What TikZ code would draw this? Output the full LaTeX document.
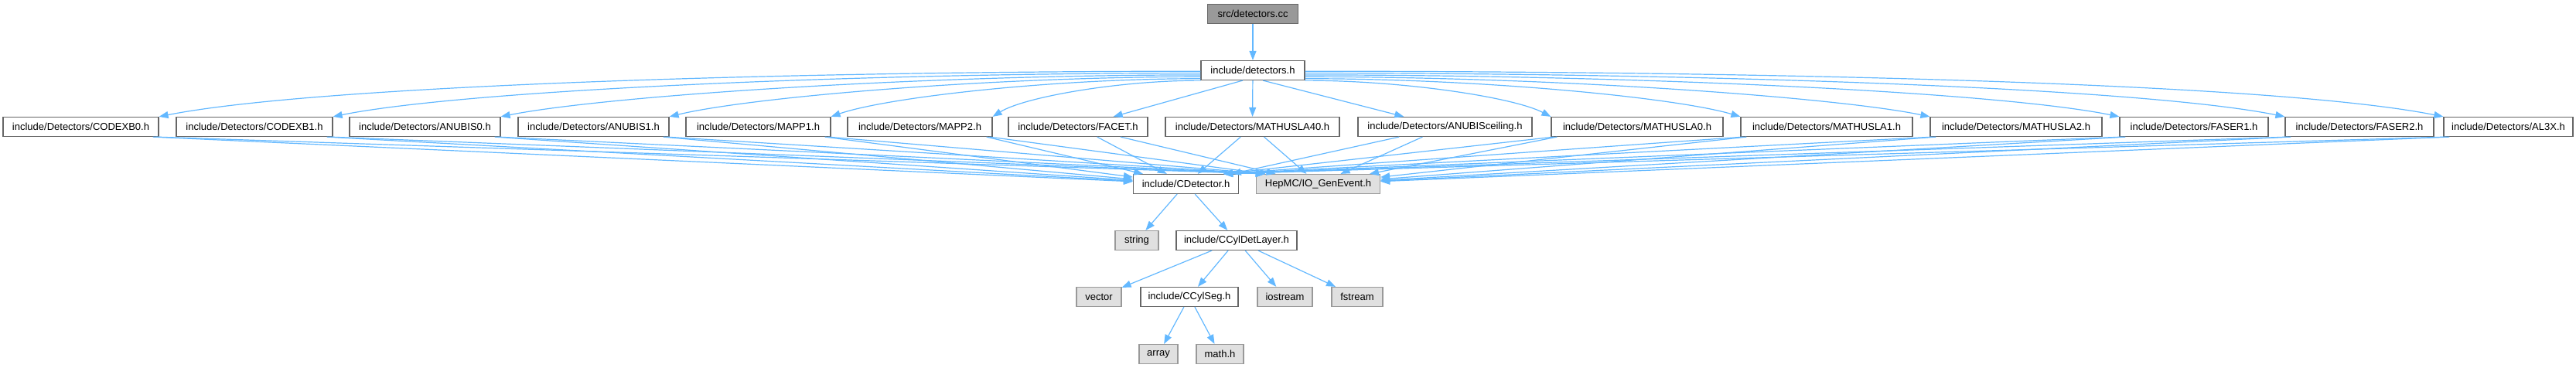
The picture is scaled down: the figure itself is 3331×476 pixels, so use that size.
\documentclass[tikz,border=0pt]{standalone}
\usepackage{fontspec}
\setmainfont{Liberation Sans}
\usetikzlibrary{arrows.meta}

\definecolor{edgeblue}{HTML}{63B8FF}
\definecolor{boxline}{HTML}{666666}
\definecolor{extline}{HTML}{999999}
\definecolor{extfill}{HTML}{E0E0E0}
\definecolor{srcfill}{HTML}{999999}

\begin{document}
\begin{tikzpicture}[x=1pt,y=-1pt,
  hdr/.style={draw=boxline,fill=white,line width=1.2pt,minimum height=25pt,
    inner sep=0pt,font=\fontsize{13}{15}\selectfont},
  ext/.style={hdr,draw=extline,fill=extfill},
  srcbox/.style={hdr,fill=srcfill},
  inc/.style={draw=edgeblue,line width=1.2pt,-{Triangle[length=12pt,width=9pt]}}
]
\useasboundingbox (0,0) rectangle (3331,476);

\node[srcbox,minimum width=117pt] (src) at (1620,18) {src/detectors.cc};
\node[hdr,minimum width=134pt] (det) at (1620,91) {include/detectors.h};

% detector headers
\node[hdr,minimum width=201pt] (codexb0) at (104.5,164) {include/Detectors/CODEXB0.h};
\node[hdr,minimum width=202pt] (codexb1) at (329,164) {include/Detectors/CODEXB1.h};
\node[hdr,minimum width=195pt] (anubis0) at (549.5,164) {include/Detectors/ANUBIS0.h};
\node[hdr,minimum width=195pt] (anubis1) at (767.5,164) {include/Detectors/ANUBIS1.h};
\node[hdr,minimum width=187pt] (mapp1) at (980.5,164) {include/Detectors/MAPP1.h};
\node[hdr,minimum width=187pt] (mapp2) at (1189.5,164) {include/Detectors/MAPP2.h};
\node[hdr,minimum width=180pt] (facet) at (1394,164) {include/Detectors/FACET.h};
\node[hdr,minimum width=225pt] (mathusla40) at (1619.5,164) {include/Detectors/MATHUSLA40.h};
\node[hdr,minimum width=225pt] (anubisceil) at (1868.5,164) {include/Detectors/ANUBISceiling.h};
\node[hdr,minimum width=222pt] (mathusla0) at (2117,164) {include/Detectors/MATHUSLA0.h};
\node[hdr,minimum width=222pt] (mathusla1) at (2362,164) {include/Detectors/MATHUSLA1.h};
\node[hdr,minimum width=222pt] (mathusla2) at (2607,164) {include/Detectors/MATHUSLA2.h};
\node[hdr,minimum width=192pt] (faser1) at (2837,164) {include/Detectors/FASER1.h};
\node[hdr,minimum width=192pt] (faser2) at (3051,164) {include/Detectors/FASER2.h};
\node[hdr,minimum width=167pt] (al3x) at (3243.5,164) {include/Detectors/AL3X.h};

\node[hdr,minimum width=136pt] (cdet) at (1533.5,238) {include/CDetector.h};
\node[ext,minimum width=160pt] (hepmc) at (1704.5,238) {HepMC/IO\_GenEvent.h};

\node[ext,minimum width=56pt] (string) at (1470,311) {string};
\node[hdr,minimum width=156pt] (layer) at (1599,311) {include/CCylDetLayer.h};

\node[ext,minimum width=58pt] (vector) at (1421,384) {vector};
\node[hdr,minimum width=126pt] (seg) at (1538,384) {include/CCylSeg.h};
\node[ext,minimum width=71pt] (iostream) at (1661.5,384) {iostream};
\node[ext,minimum width=66pt] (fstream) at (1755,384) {fstream};

\node[ext,minimum width=50pt] (array) at (1498,458) {array};
\node[ext,minimum width=61pt] (mathh) at (1577.5,458) {math.h};

\draw[inc] (src) -- (det);

% detectors.h -> detector headers
\draw[inc] (det.181) .. controls +(-539,0) and +(202,-40) .. (codexb0.north east);
\draw[inc] (det.183) .. controls +(-449,0) and +(168,-34) .. (codexb1.north east);
\draw[inc] (det.185) .. controls +(-362,0) and +(136,-27) .. (anubis0.north east);
\draw[inc] (det.187) .. controls +(-275,0) and +(103,-25) .. (anubis1.north east);
\draw[inc] (det.189) .. controls +(-192,0) and +(72,-25) .. (mapp1.north east);
\draw[inc] (det.191) .. controls +(-108,0) and +(40,-25) .. (mapp2.north east);
\draw[inc] (det.225) -- ([xshift=-45pt]facet.north east);
\draw[inc] (det) -- (mathusla40);
\draw[inc] (det.315) -- ([xshift=60pt]anubisceil.north west);
\draw[inc] (det.349) .. controls +(128,0) and +(-48,-25) .. (mathusla0.north west);
\draw[inc] (det.351) .. controls +(226,0) and +(-85,-25) .. (mathusla1.north west);
\draw[inc] (det.353) .. controls +(324,0) and +(-121,-25) .. (mathusla2.north west);
\draw[inc] (det.355) .. controls +(422,0) and +(-158,-32) .. (faser1.north west);
\draw[inc] (det.357) .. controls +(507,0) and +(-190,-38) .. (faser2.north west);
\draw[inc] (det.359) .. controls +(589,0) and +(-221,-44) .. (al3x.north west);

% detector headers -> CDetector.h, GenEvent.h
\foreach \n in {codexb0,codexb1,anubis0,anubis1,mapp1,mapp2}{
  \draw[inc] ([xshift=-8pt]\n.south east) -- (cdet);
  \draw[inc] ([xshift=-4pt]\n.south east) -- ([xshift=12pt]hepmc.north west);
}
\foreach \n in {facet,mathusla40,anubisceil}{
  \draw[inc] (\n) -- (cdet);
  \draw[inc] (\n) -- (hepmc);
}
\foreach \n in {mathusla0,mathusla1,mathusla2,faser1,faser2,al3x}{
  \draw[inc] ([xshift=4pt]\n.south west) -- ([xshift=-20pt]cdet.north east);
  \draw[inc] ([xshift=8pt]\n.south west) -- (hepmc);
}

\draw[inc] (cdet) -- (string);
\draw[inc] (cdet) -- (layer);
\draw[inc] (layer) -- (vector);
\draw[inc] (layer) -- (seg);
\draw[inc] (layer) -- (iostream);
\draw[inc] (layer) -- (fstream);
\draw[inc] (seg) -- (array);
\draw[inc] (seg) -- (mathh);
\end{tikzpicture}
\end{document}
